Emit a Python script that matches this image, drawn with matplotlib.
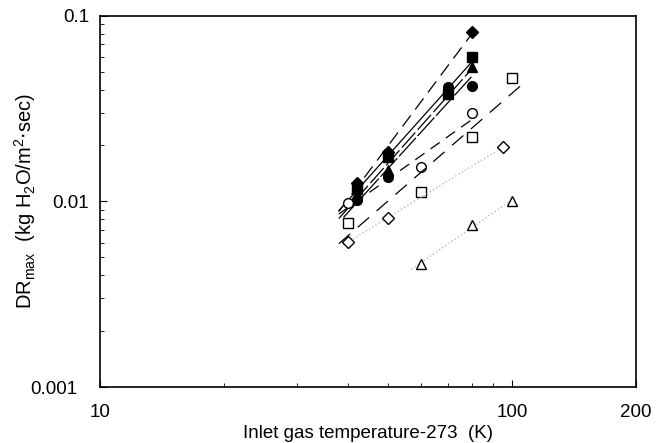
import numpy as np
import matplotlib.pyplot as plt
from matplotlib.ticker import FixedLocator, FixedFormatter, NullFormatter
from matplotlib.transforms import ScaledTranslation

plt.rcParams['font.family'] = ['Liberation Sans', 'DejaVu Sans']

# Filled symbols
T_filled_diamond = [42, 50, 80]
dr_filled_diamond = [0.0125, 0.0185, 0.0817]
T_filled_square = [42, 50, 70, 80]
dr_filled_square = [0.0117, 0.0174, 0.0378, 0.060]
T_filled_triangle = [42, 50, 80]
dr_filled_triangle = [0.0110, 0.0148, 0.053]
T_filled_circle = [42, 50, 70, 80]
dr_filled_circle = [0.0102, 0.0135, 0.0413, 0.0418]

# Open symbols
T_open_circle = [40, 60, 80]
dr_open_circle = [0.0098, 0.0153, 0.0299]
T_open_square = [40, 60, 80, 100]
dr_open_square = [0.00766, 0.01125, 0.0222, 0.0462]
T_open_diamond = [40, 50, 95]
dr_open_diamond = [0.00604, 0.00815, 0.0196]
T_open_triangle = [60, 80, 100]
dr_open_triangle = [0.0046, 0.00746, 0.0100]

# (x, y, marker, filled, fit range, line style, line colour)
series = [
    (T_filled_diamond, dr_filled_diamond, 'D', True, (38, 80), (0, (11, 6)), 'black'),
    (T_filled_square, dr_filled_square, 's', True, (38, 80), '-', 'black'),
    (T_filled_triangle, dr_filled_triangle, '^', True, (38, 80), (0, (16, 3)), 'black'),
    (T_filled_circle, dr_filled_circle, 'o', True, (39, 80), (0, (20, 2)), 'black'),
    (T_open_circle, dr_open_circle, 'o', False, (38, 82), (0, (9, 6)), 'black'),
    (T_open_square, dr_open_square, 's', False, (38, 105), (0, (12, 8)), 'black'),
    (T_open_diamond, dr_open_diamond, 'D', False, (39, 95), (0, (1, 2)), '#aaaaaa'),
    (T_open_triangle, dr_open_triangle, '^', False, (57, 100), (0, (1, 2)), '#aaaaaa'),
]

fig = plt.figure(figsize=(6.6, 4.43), dpi=100)
ax = fig.add_axes([0.1515, 0.1264, 0.8121, 0.8382])

for x, y, m, filled, (x0, x1), ls, lc in series:
    # power-law fit in log-log space
    k, b = np.polyfit(np.log10(x), np.log10(y), 1)
    xs = np.array([x0, x1])
    ax.plot(xs, 10 ** (k * np.log10(xs) + b), ls=ls, color=lc, lw=0.9)
    ms = 6 if m == 'D' else 7
    ax.plot(x, y, ls='none', marker=m, ms=ms, mec='black', mew=1.0,
            mfc='black' if filled else 'white')

ax.set_xscale('log')
ax.set_yscale('log')
ax.set_xlim(10, 200)
ax.set_ylim(0.001, 0.1)

ax.xaxis.set_major_locator(FixedLocator([10, 100, 200]))
ax.xaxis.set_major_formatter(FixedFormatter(['10', '100', '200']))
ax.xaxis.set_minor_locator(FixedLocator([20, 30, 40, 50, 60, 70, 80, 90]))
ax.xaxis.set_minor_formatter(NullFormatter())
ax.yaxis.set_major_locator(FixedLocator([0.001, 0.01, 0.1]))
ax.yaxis.set_major_formatter(FixedFormatter(['0.001', '0.01', '0.1']))
ax.yaxis.set_minor_locator(FixedLocator(
    [i * 10.0 ** e for e in (-3, -2) for i in range(2, 10)]))
ax.yaxis.set_minor_formatter(NullFormatter())

ax.tick_params(which='both', direction='in', top=False, right=False,
               labelsize=13.5)
ax.tick_params(axis='x', pad=12)
ax.tick_params(axis='y', pad=8)
ax.tick_params(which='major', length=5)
ax.tick_params(which='minor', length=3)
for s in ax.spines.values():
    s.set_linewidth(1.2)

# the bottom y label sits further left in the original
fig.canvas.draw()
lbl = ax.yaxis.get_majorticklabels()[0]
lbl.set_transform(lbl.get_transform() + ScaledTranslation(-0.12, 0, fig.dpi_scale_trans))

ax.set_xlabel('Inlet gas temperature-273  (K)', fontsize=13.5, labelpad=3)
ax.set_ylabel(r'DR$_{\mathregular{max}}$  (kg H$_{\mathregular{2}}$O/m$^{\mathregular{2}}$$\cdot$sec)',
              fontsize=14.5)
ax.yaxis.set_label_coords(-0.115, 0.5)

fig.savefig('out.png', dpi=100)
